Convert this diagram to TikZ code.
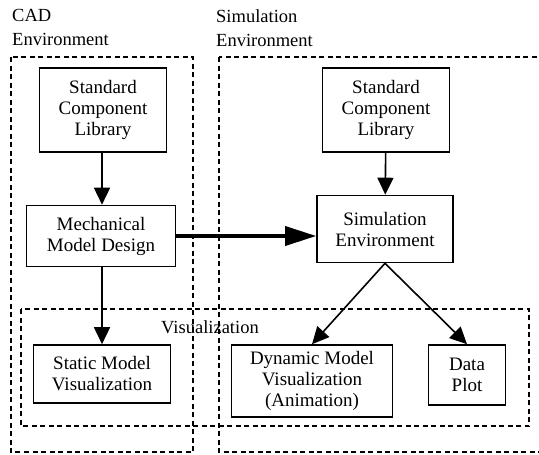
\documentclass[tikz,border=0pt]{standalone}
\usepackage{fontspec}
\setmainfont{Liberation Serif}
\usetikzlibrary{positioning,arrows.meta}
\tikzset{
  blk/.style  ={draw, line width=1.6pt, align=center, inner sep=2pt,
                font=\fontsize{19}{21}\selectfont},
  env/.style  ={draw, line width=1.5pt, dash pattern=on 5pt off 3.5pt},
  lbl/.style  ={align=left, inner sep=0pt, font=\fontsize{18.5}{24}\selectfont},
  ar/.style   ={-{Triangle[length=17pt,width=16pt]}, line width=1.6pt},
  tar/.style  ={-{Triangle[length=31pt,width=19pt]}, line width=3.5pt},
}
\begin{document}
\begin{tikzpicture}[x=1pt,y=-1pt]
\useasboundingbox (0,0) rectangle (539,455);
% environments
\draw[env] (11,57) rectangle (193,452);
\draw[env] (219,57) rectangle (548,452);
\draw[env] (21,309) rectangle (529,426);
\node[lbl,anchor=north west] (cadlbl) at (12,9) {CAD\\Environment};
\node[lbl,anchor=north west] (simlbl) at (216,9) {Simulation\\Environment};
\node[lbl] (vislbl) at (210,327) {Visualization};

% CAD side
\node[blk,minimum width=127pt,minimum height=84pt] (lib1) at (103,110) {Standard\\Component\\Library};
\node[blk,minimum width=149pt,minimum height=61pt] (mech) at (101,236) {Mechanical\\Model Design};
\node[blk,minimum width=137pt,minimum height=58pt] (static) at (102,374) {Static Model\\Visualization};

% simulation side
\node[blk,minimum width=127pt,minimum height=84pt] (lib2) at (386,110) {Standard\\Component\\Library};
\node[blk,minimum width=136pt,minimum height=67pt] (simenv) at (385,229) {Simulation\\Environment};
\node[blk,minimum width=161pt,minimum height=72pt] (dyn) at (312,381) {Dynamic Model\\Visualization\\(Animation)};
\node[blk,minimum width=77pt,minimum height=60pt] (plot) at (467,375) {Data\\Plot};

\draw[ar] (lib1.south -| 102,0) -- (mech.north -| 102,0);
\draw[ar] (mech.south -| 102,0) -- (static.north -| 102,0);
\draw[ar] (lib2) -- (simenv);
\draw[tar] (mech.east) -- (mech.east -| simenv.west);
\draw[ar] (simenv.south) -- (dyn.north);
\draw[ar] (simenv.south) -- (plot.north);
\end{tikzpicture}
\end{document}
